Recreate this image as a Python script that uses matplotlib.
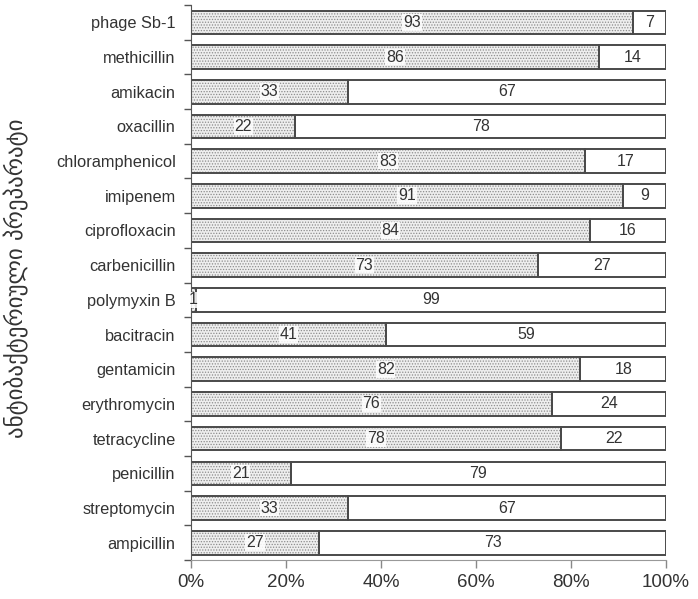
import matplotlib
matplotlib.use("Agg")
import matplotlib.pyplot as plt
from matplotlib.ticker import FixedLocator, PercentFormatter

categories = ["phage Sb-1", "methicillin", "amikacin", "oxacillin", "chloramphenicol",
              "imipenem", "ciprofloxacin", "carbenicillin", "polymyxin B", "bacitracin",
              "gentamicin", "erythromycin", "tetracycline", "penicillin", "streptomycin",
              "ampicillin"]
sensitive = [93, 86, 33, 22, 83, 91, 84, 73, 1, 41, 82, 76, 78, 21, 33, 27]
resistant = [7, 14, 67, 78, 17, 9, 16, 27, 99, 59, 18, 24, 22, 79, 67, 73]
x_ticks = [0, 20, 40, 60, 80, 100]
y_label = "ანტიბაქტერიული პრეპარატი"

plt.rcParams["font.family"] = ["Liberation Sans", "DejaVu Sans"]
plt.rcParams["hatch.linewidth"] = 0.6

fig = plt.figure(figsize=(6.98, 5.99), dpi=100)
ax = fig.add_axes([0.2736, 0.065, 0.6805, 0.9267])

pos = list(range(len(categories)))
h = 0.68
edge = "#4a4a4a"

# stippled fill for the first segment
ax.barh(pos, sensitive, height=h, color="#eeeeee", edgecolor="#8c8c8c",
        hatch="......", linewidth=0)
# plain segment stacked on the right
ax.barh(pos, resistant, left=sensitive, height=h, color="white",
        edgecolor=edge, linewidth=1.4)
# outline of the stippled segment
ax.barh(pos, sensitive, height=h, fill=False, edgecolor=edge, linewidth=1.4)

for i, (s, r) in enumerate(zip(sensitive, resistant)):
    ax.text(s / 2, i, str(s), ha="center", va="center", fontsize=11.5,
            color="#333333",
            bbox=dict(facecolor="white", edgecolor="none", pad=0.6, alpha=0.85))
    ax.text(s + r / 2, i, str(r), ha="center", va="center", fontsize=11.5,
            color="#333333")

ax.set_xlim(0, 100)
ax.set_ylim(len(categories) - 0.5, -0.5)
ax.set_xticks(x_ticks)
ax.xaxis.set_major_formatter(PercentFormatter(decimals=0))
ax.set_yticks(pos)
ax.set_yticklabels(categories, fontsize=11.8, color="#333333")
ax.yaxis.set_minor_locator(FixedLocator([p - 0.5 for p in pos] + [len(pos) - 0.5]))
ax.tick_params(axis="y", which="major", length=0, pad=11)
ax.tick_params(axis="y", which="minor", length=5, color="#555555", width=1)
ax.tick_params(axis="x", length=6, color="#888888", width=1, labelsize=13.5,
               labelcolor="#333333", pad=4)

for side in ("top", "right"):
    ax.spines[side].set_visible(False)
ax.spines["left"].set_color("#555555")
ax.spines["bottom"].set_color("#999999")

fig.text(0.024, 0.535, y_label, rotation=90, ha="center", va="center",
         fontsize=16.5, color="#333333", family=["DejaVu Sans"])

fig.savefig("out.png", dpi=100)
